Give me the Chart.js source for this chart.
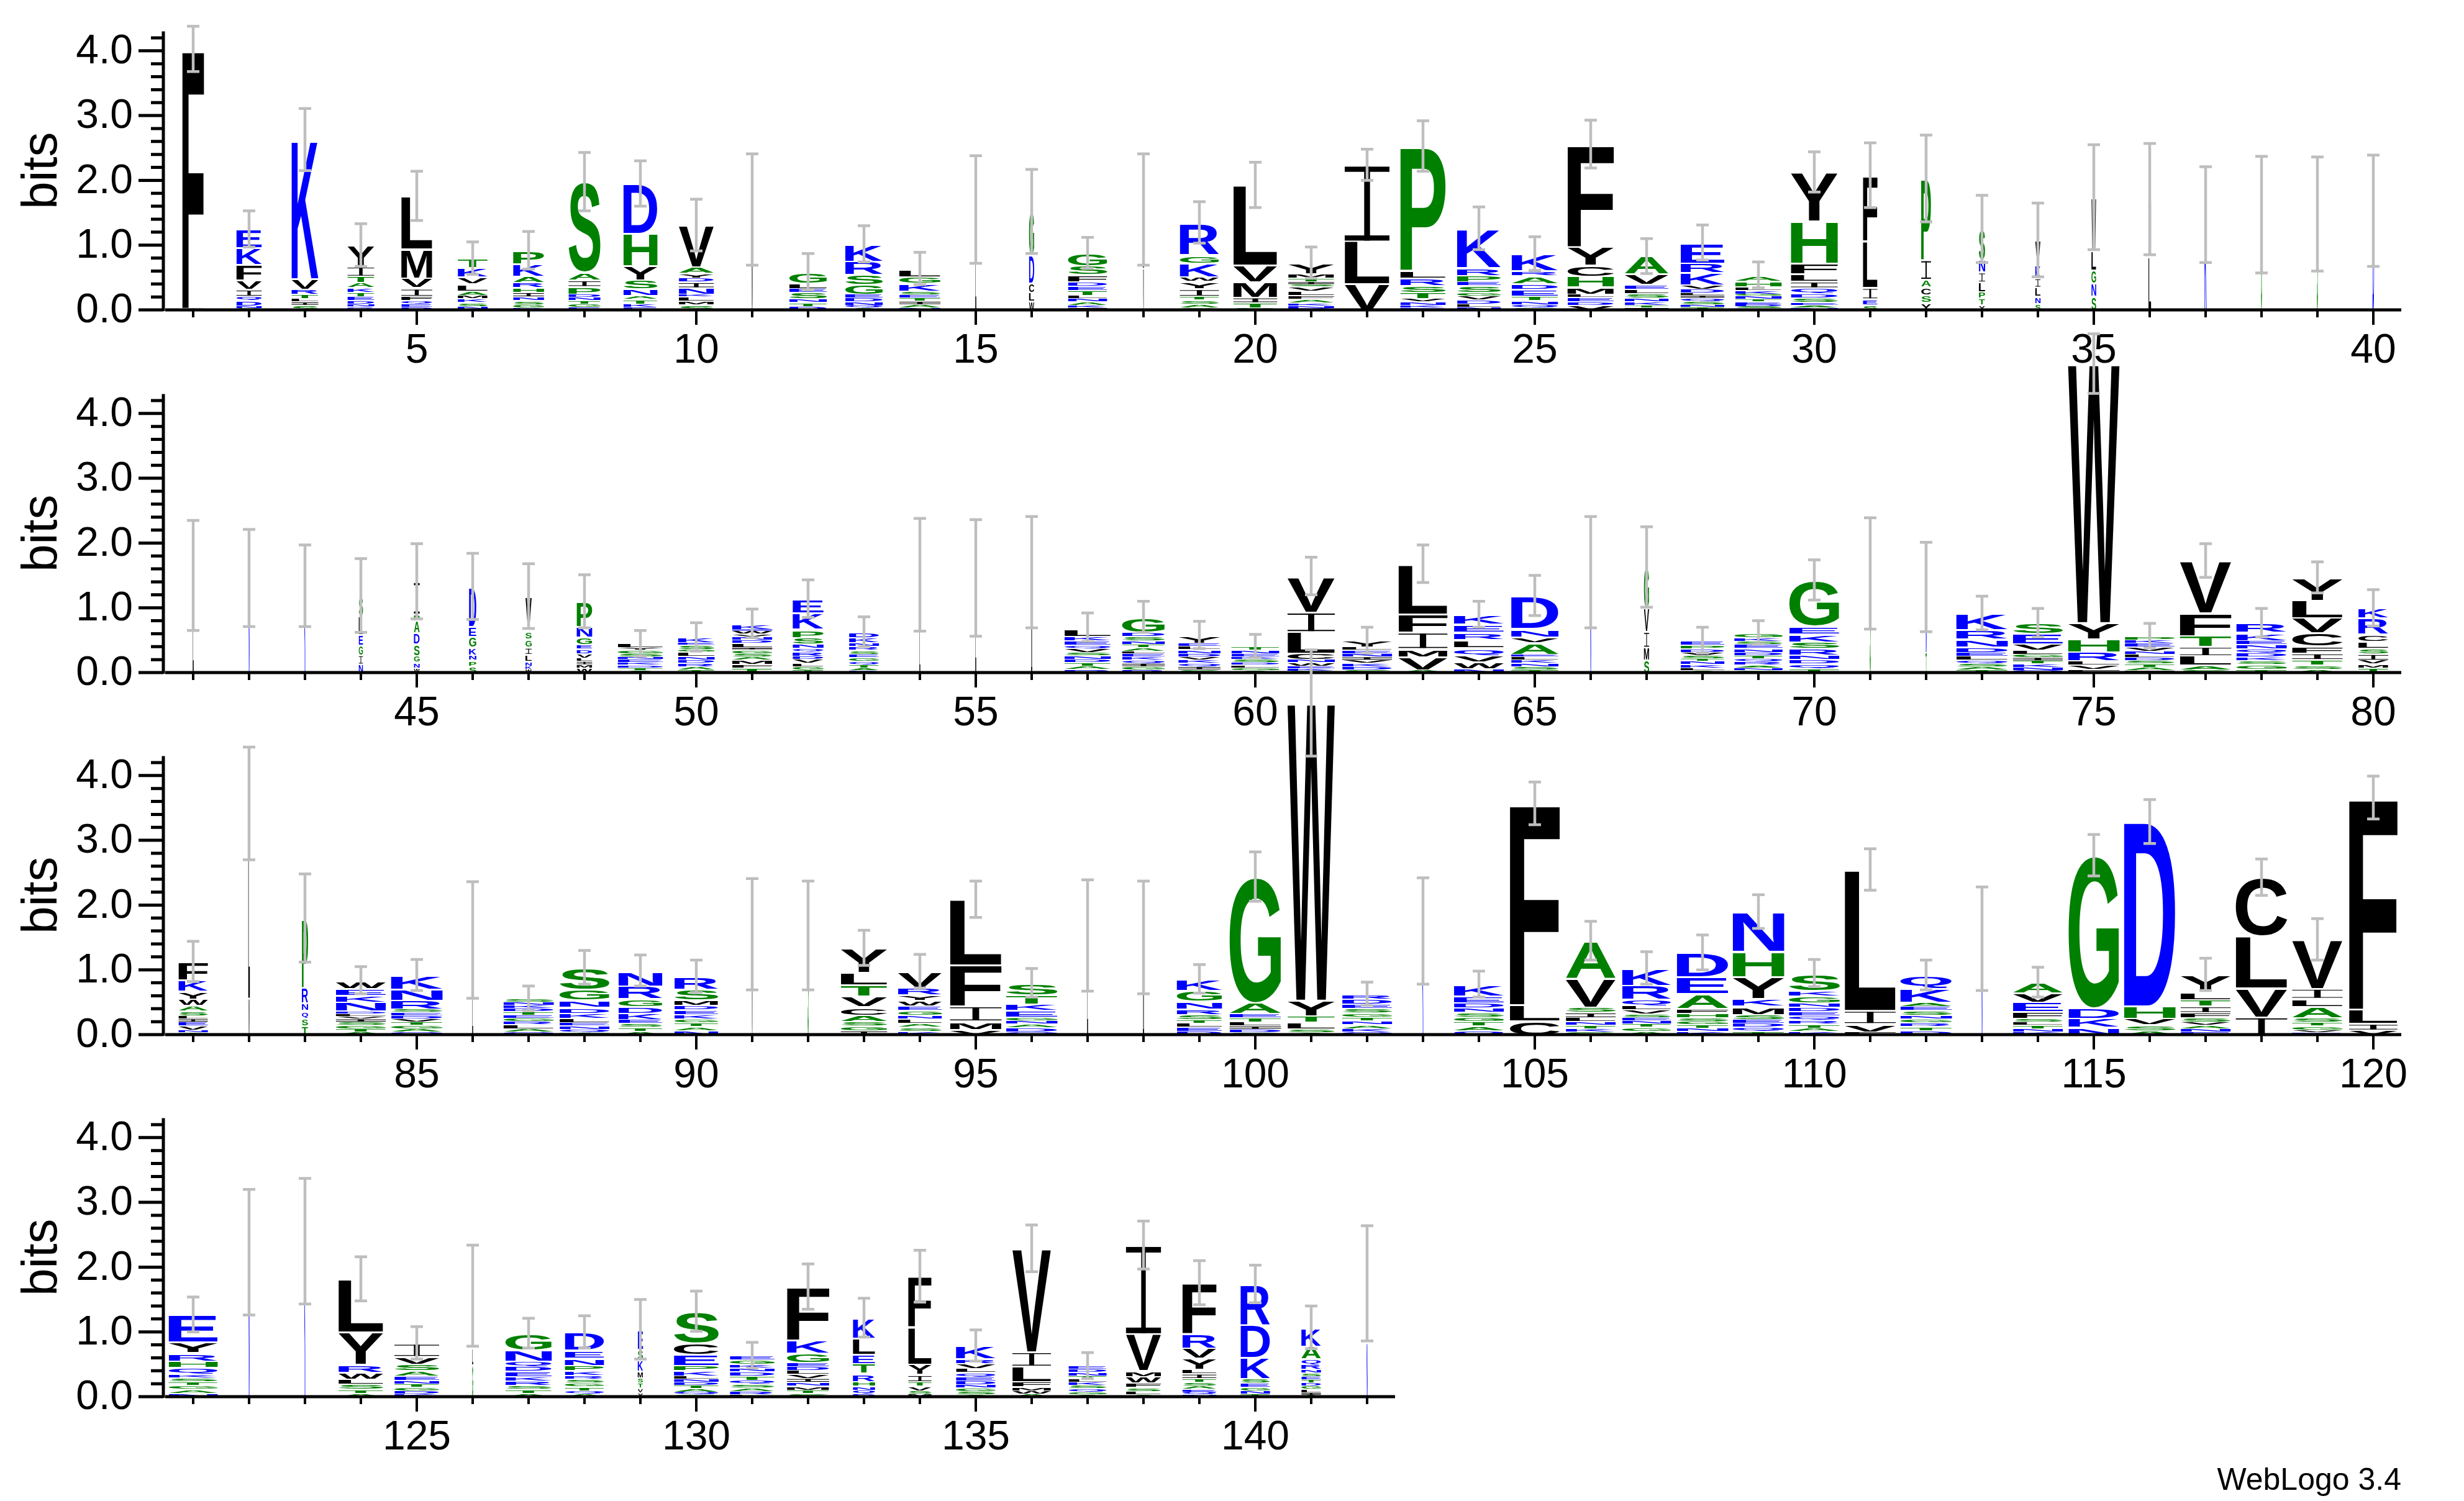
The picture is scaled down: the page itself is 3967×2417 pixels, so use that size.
<!DOCTYPE html>
<html>
<head>
<meta charset="utf-8">
<title>WebLogo</title>
<script src="https://cdn.jsdelivr.net/npm/chart.js@4.4.1/dist/chart.umd.min.js"></script>
<style>
    html, body { margin: 0; padding: 0; background: #fff; width: 3967px; height: 2417px; overflow: hidden; position: relative; }
    canvas { position: absolute; left: 0; }
</style>
</head>
<body>
<canvas id="row1"></canvas>
<canvas id="row2"></canvas>
<canvas id="row3"></canvas>
<canvas id="row4"></canvas>
<script>
// ---- Data: each stack lists letters top -> bottom as LETTER:bits ----
const stacks1 = [
    "F:4.0 I:.03", "E:.28 K:.26 F:.24 V:.14 I:.11 Q:.07 D:.08 N:.04 S:.03",
    "K:2.14 V:.16 R:.08 T:.07 L:.05 I:.05 S:.08", "Y:.32 I:.15 T:.1 A:.08 K:.07 T:.07 E:.06 D:.05 N:.04 Q:.03 R:.03",
    "L:.81 M:.45 V:.15 I:.13 F:.07 Q:.05 E:.05 D:.05", "T:.14 K:.14 V:.11 L:.11 A:.07 M:.05 K:.06 S:.06 N:.04 T:.02",
    "P:.2 K:.19 A:.1 R:.08 H:.07 I:.07 N:.06 S:.06 G:.05 D:.04", "S:1.39 A:.12 I:.1 P:.12 D:.05 N:.05 T:.05 G:.05 E:.05",
    "D:.76 H:.5 Y:.22 S:.14 N:.1 A:.06 T:.07 K:.05 E:.05", "V:.64 A:.1 Y:.07 D:.06 I:.09 N:.1 K:.04 L:.07 M:.05 S:.09",
    "L:.8 V:.75", "G:.17 L:.08 E:.06 S:.1 N:.06 T:.06 D:.06",
    "K:.26 R:.21 S:.15 G:.15 E:.06 D:.06 N:.05 Q:.04 A:.04", "L:.12 G:.1 K:.12 S:.06 E:.05 T:.05 I:.05 A:.05 N:.04",
    "G:.25 L:1.3", "G:.67 D:.43 C:.14 L:.14 W:.14",
    "G:.19 S:.14 F:.11 D:.07 E:.06 T:.08 L:.05 N:.05 A:.05 K:.04 I:.04", "L:.9 V:.65",
    "R:.49 G:.13 K:.21 W:.07 Y:.11 I:.12 T:.06 S:.06 A:.06 G:.04", "L:1.23 V:.26 M:.24 I:.08 T:.08 S:.04",
    "Y:.16 M:.07 T:.06 I:.04 S:.04 V:.06 L:.07 F:.06 A:.06 K:.04 N:.04 D:.03", "I:1.17 L:.66 V:.41",
    "P:1.91 L:.12 R:.12 S:.1 T:.1 V:.05 N:.05 K:.04 E:.04", "K:.6 R:.12 P:.1 E:.06 S:.1 G:.06 V:.06 D:.06 L:.05 N:.05",
    "K:.26 R:.07 A:.13 D:.08 E:.11 T:.07 N:.06 Q:.05 S:.04", "F:1.58 Y:.28 C:.17 H:.17 M:.11 L:.05 E:.07 D:.05 V:.08",
    "A:.27 V:.16 E:.07 L:.07 S:.07 N:.06 K:.05 T:.04 I:.04", "E:.31 R:.15 K:.19 V:.06 D:.06 L:.04 I:.04 Q:.05 S:.05 N:.04 T:.05",
    "A:.09 H:.09 L:.05 K:.06 G:.03 N:.05 T:.04 E:.04 D:.03 S:.03 Q:.03", "Y:.75 H:.65 F:.16 L:.12 I:.1 Q:.09 D:.07 S:.07 E:.04 A:.04 N:.04",
    "F:1.01 L:.72 I:.17 E:.09 S:.09", "P:1.25 I:.3 A:.12 C:.12 S:.12 Y:.12",
    "S:.47 N:.19 I:.15 L:.15 P:.1 T:.1 Y:.09", "V:.38 K:.2 I:.14 L:.14 N:.11 S:.11",
    "W:.82 L:.3 G:.2 N:.2 S:.22", "N:.88 L:.83", "K:1.47", "G:1.47", "S:1.48", "D:1.53",
];
const widths1 = [.42, .49, .52, .52, .6, .58, .6, .62, .66, .68, .03, .73, .73, .8, .02, .1, .76, .02, .76, .85,
    .89, .87, .88, .85, .9, .9, .85, .85, .9, .91, .28, .19, .12, .1, .09, .05, .04, .02, .02, .03];
const errors1 = [.35, .28, .48, .33, .38, .25, .29, .45, .35, .4, .86, .28, .28, .25, .83, .65, .24, .86, .32, .35,
    .24, .24, .39, .33, .26, .37, .27, .27, .2, .31, .5, .67, .52, .57, .81, .86, .74, .9, .88, .86];

const stacks2 = [
    "G:.3 L:1.2", "N:1.46", "K:1.34", "S:.31 L:.29 E:.16 G:.15 I:.14 N:.14",
    "I:.5 P:.1 A:.19 D:.17 S:.18 G:.1 N:.09 W:.08", "D:.61 E:.15 G:.17 K:.12 N:.08 P:.09 S:.11",
    "V:.52 S:.13 G:.13 I:.11 L:.11 N:.07 K:.05 W:.06", "P:.38 N:.16 G:.12 E:.07 D:.07 V:.07 L:.05 I:.05 M:.05 W:.08",
    "L:.06 Y:.04 G:.05 S:.05 N:.04 E:.05 K:.04 D:.04 T:.04 A:.04", "K:.08 E:.04 S:.07 G:.03 L:.07 N:.06 D:.05 R:.05 A:.05 T:.05",
    "K:.09 E:.02 W:.05 V:.04 N:.05 D:.05 L:.07 I:.03 G:.06 S:.05 A:.05 M:.07 F:.05 T:.08",
    "E:.21 K:.25 P:.13 S:.1 N:.07 Q:.05 R:.07 D:.05 V:.06 L:.05 G:.05 T:.05",
    "D:.08 K:.08 N:.06 R:.06 S:.06 E:.05 G:.06 Q:.05 T:.05 A:.04 D:.04", "V:.7 L:.81", "L:1.46", "I:1.55",
    "L:.13 K:.07 E:.07 Q:.05 V:.06 S:.05 N:.06 D:.05 T:.05 A:.05 R:.06",
    "G:.23 D:.06 S:.07 N:.06 T:.05 A:.05 L:.04 E:.05 K:.05 Q:.05 I:.05 G:.05 R:.05",
    "Y:.12 E:.05 L:.05 N:.06 D:.05 V:.05 K:.05 Q:.05 I:.05 S:.05", "T:.06 N:.05 E:.05 K:.04 S:.05 D:.04 L:.04 G:.04 A:.04",
    "V:.55 I:.3 L:.33 C:.1 N:.05 W:.05 E:.04 K:.04 S:.03", "Y:.1 L:.05 E:.05 N:.05 I:.05 V:.05 K:.05 D:.05 S:.05",
    "L:.77 F:.28 I:.25 M:.13 V:.2 A:.05", "K:.14 E:.13 R:.11 L:.13 Q:.12 V:.1 W:.1 N:.07",
    "D:.5 N:.13 V:.09 A:.18 E:.04 L:.05 K:.05 N:.05 S:.05 T:.05", "N:1.55", "G:.63 V:.36 I:.24 M:.2 S:.2",
    "E:.07 P:.06 D:.05 V:.05 S:.05 T:.04 N:.05 K:.05 L:.04 A:.04",
    "G:.07 K:.06 S:.05 E:.06 N:.06 D:.05 T:.05 Q:.05 R:.05 A:.04 N:.04 G:.04",
    "G:.7 E:.13 K:.12 S:.1 R:.1 N:.07 D:.07 Q:.07 T:.07", "S:1.53", "N:1.0 T:.32",
    "K:.25 R:.14 N:.13 D:.08 E:.06 L:.06 Q:.05 S:.05 A:.05 T:.05", "S:.16 E:.16 V:.1 L:.06 G:.05 I:.05 T:.05 K:.05 N:.05 Q:.04",
    "W:3.99 Y:.25 H:.2 R:.14 L:.07 V:.06 F:.06", "P:.06 K:.05 E:.06 V:.06 N:.05 L:.05 D:.05 S:.05 T:.05 A:.05 I:.04",
    "V:.8 F:.35 T:.17 I:.14 L:.15 A:.07 S:.05", "R:.14 K:.13 E:.06 N:.07 Q:.06 D:.06 K:.06 S:.06 G:.07 T:.06",
    "Y:.35 L:.27 V:.23 C:.2 F:.11 I:.1 T:.09 S:.06 A:.06", "K:.15 R:.25 C:.11 L:.11 S:.08 I:.1 V:.06 M:.06 T:.08",
];
const widths2 = [.02, .02, .02, .08, .11, .14, .12, .3, .88, .71, .78, .6, .58, .01, .01, .01, .9, .83, .82, .93,
    .92, .97, .95, .97, .92, .01, .1, .85, .94, .97, .01, .02, 1.0, .97, 1.0, .97, 1.0, .98, .98, .58];
const errors2 = [.85, .75, .63, .57, .58, .51, .5, .41, .2, .22, .22, .29, .23, .87, .9, .86, .22, .24, .21, .18,
    .29, .2, .29, .2, .31, .86, .62, .2, .18, .31, .86, .69, .26, .22, .46, .19, .26, .22, .24, .28];

const stacks3 = [
    "F:.28 K:.17 Y:.12 W:.1 A:.09 S:.07 L:.05 I:.05 E:.06 V:.06 N:.04 T:.04", "L:3.0 V:.57",
    "P:1.06 R:.24 N:.12 Q:.12 S:.12 T:.14", "W:.12 E:.11 K:.1 N:.14 D:.04 L:.04 V:.04 I:.05 S:.05 G:.05 T:.05 A:.05",
    "K:.21 N:.17 R:.14 S:.05 E:.05 D:.05 V:.05 T:.05 G:.05 A:.05 Q:.05", "V:.6 L:.86",
    "S:.05 N:.05 K:.05 D:.05 T:.05 E:.05 G:.05 R:.05 L:.06 A:.05 Q:.05",
    "S:.33 G:.17 N:.11 D:.09 K:.08 L:.07 E:.05 N:.05 Q:.05 T:.04", "N:.23 R:.2 G:.12 D:.1 K:.1 E:.06 S:.06 T:.06 A:.06",
    "R:.19 S:.17 M:.08 D:.07 E:.07 K:.07 G:.06 T:.06 A:.06 N:.07", "L:.8 V:.75", "S:1.53",
    "Y:.37 L:.19 T:.18 V:.16 C:.13 A:.1 S:.07 G:.07 I:.07", "V:.24 R:.12 Y:.08 W:.09 E:.07 G:.07 N:.06 L:.07 A:.06 S:.06 K:.06",
    "L:1.01 F:.63 I:.23 M:.13 V:.09", "S:.18 T:.14 K:.1 E:.1 G:.06 N:.05 A:.06 D:.06 Q:.05", "L:1.53", "I:1.5",
    "K:.17 G:.16 N:.13 R:.08 S:.08 T:.06 L:.06 E:.06 D:.06", "G:1.94 A:.17 E:.06 T:.07 L:.06 I:.05 D:.05 S:.04",
    "W:4.58 Y:.24 T:.1 L:.1 S:.06 A:.04", "R:.07 D:.08 E:.07 S:.07 G:.06 T:.06 N:.06 A:.06 K:.05 Q:.05", "K:1.6",
    "K:.18 E:.1 D:.08 N:.07 S:.07 G:.07 T:.07 A:.07 Q:.07", "F:3.1 L:.25 C:.22",
    "A:.57 V:.45 S:.08 I:.08 L:.06 N:.06 T:.05 K:.05 G:.05", "K:.26 R:.22 Q:.1 L:.06 V:.06 S:.06 E:.05 N:.05 T:.05 G:.06 A:.06",
    "D:.37 E:.26 A:.23 F:.07 H:.07 S:.06 G:.05 T:.05 N:.05 K:.06", "N:.61 H:.39 Y:.33 K:.12 M:.13 S:.08 E:.06 D:.06 Q:.06 T:.06",
    "S:.26 K:.09 G:.1 N:.07 D:.07 E:.06 Q:.07 R:.06 T:.06 A:.05 K:.06", "L:2.17 I:.2 V:.13 F:.05",
    "Q:.2 K:.21 A:.07 E:.06 S:.07 N:.06 G:.06 R:.06 T:.06 D:.07", "N:1.48",
    "A:.16 V:.14 E:.15 F:.1 S:.06 L:.05 T:.05 N:.05 K:.05", "G:2.35 D:.16 K:.14 N:.12", "D:2.84 H:.19 V:.1 S:.09 A:.07",
    "Y:.26 L:.12 T:.1 I:.1 F:.08 S:.07 V:.05 A:.05 N:.05 E:.05", "C:.9 L:.8 V:.45 I:.28",
    "V:.75 I:.15 L:.13 A:.17 S:.07 T:.06 G:.06 V:.04 E:.04", "F:3.26 L:.22 I:.1 V:.08",
];
const widths3 = [.57, .03, .12, .97, 1.0, .01, .98, .97, .85, .85, .01, .01, .9, .85, 1.0, 1.0, .01, .01, .88, 1.0,
    .92, .97, .01, .97, .97, .97, .95, 1.0, 1.0, .99, .99, 1.0, .01, .97, .98, 1.0, .97, 1.0, .98, .94];
const errors3 = [.31, .87, .68, .21, .24, .9, .19, .26, .24, .25, .86, .84, .27, .26, .28, .22, .86, .87, .22, .38,
    .82, .18, .82, .2, .33, .3, .25, .27, .26, .21, .32, .23, .8, .23, .32, .34, .25, .28, .32, .33];

const stacks4 = [
    "E:.42 Y:.16 R:.13 H:.1 Q:.1 K:.06 S:.06 T:.06 G:.06 A:.06 N:.06", "N:2.23", "K:2.4",
    "L:.81 Y:.5 R:.13 W:.1 L:.08 S:.08 T:.06 A:.06", "I:.2 V:.12 S:.1 A:.08 E:.07 N:.06 T:.05 G:.05 D:.05 K:.05",
    "N:.8 L:.26 G:.5", "G:.25 N:.17 Q:.08 D:.08 E:.08 K:.07 R:.07 S:.06 T:.06 A:.06",
    "D:.27 E:.13 N:.11 P:.08 K:.07 R:.06 S:.06 G:.06 T:.06 Q:.05 A:.05", "E:.3 S:.17 K:.17 M:.1 S:.08 T:.08 V:.07 Y:.07",
    "S:.48 C:.18 E:.17 P:.08 K:.08 L:.05 N:.05 D:.05 T:.05 A:.05 Q:.04 G:.04",
    "E:.06 G:.07 K:.06 N:.06 D:.06 T:.07 Q:.06 S:.06 A:.05 R:.05 L:.04",
    "F:.82 K:.2 G:.14 E:.07 D:.06 L:.06 V:.06 I:.06 N:.06 M:.06 T:.05 S:.06",
    "K:.31 L:.25 E:.14 T:.15 R:.13 H:.07 N:.06 Q:.06 D:.05", "F:.78 L:.57 Y:.16 I:.11 T:.07 V:.07 S:.05 M:.05",
    "K:.2 R:.07 V:.08 L:.06 Q:.07 E:.06 D:.06 N:.05 G:.05 S:.05 A:.04", "V:1.59 I:.22 L:.24 F:.08 M:.06 W:.05 A:.05",
    "E:.05 D:.05 N:.05 T:.05 L:.05 K:.05 S:.05 Q:.05 G:.04 A:.04", "I:1.36 V:.57 M:.09 W:.1 F:.07 S:.06 L:.05 A:.04",
    "F:.78 R:.22 V:.16 Y:.17 L:.07 I:.07 T:.06 S:.06 A:.05 E:.04 Q:.04 N:.04",
    "R:.62 D:.51 K:.32 S:.07 E:.07 G:.05 N:.05 T:.05",
    "K:.28 A:.2 Q:.08 R:.08 N:.06 S:.05 E:.05 T:.05 D:.05 G:.05 L:.05 I:.04 A:.03", "G:.9 N:.85",
];
const widths4 = [.95, .02, .02, .87, .87, .02, .9, .76, .1, .87, .87, .82, .43, .45, .77, .75, .74, .68, .66, .57, .38, .02];
const errors4 = [.27, .97, .97, .34, .25, .78, .23, .25, .46, .31, .2, .35, .3, .4, .24, .36, .2, .37, .34, .29, .33, .89];

const yTicks = [0, 1, 2, 3, 4];
const yTickLabels = ["0.0", "1.0", "2.0", "3.0", "4.0"];

(function () {
    "use strict";

    // ---- Palette ----
    const COLORS = { green: "#008000", blue: "#0000ff", black: "#000000", err: "#bebebe" };
    const GREEN = "GSTAPH";
    const BLUE = "KREDNQ";
    const letterColor = (ch) => (GREEN.includes(ch) ? COLORS.green : BLUE.includes(ch) ? COLORS.blue : COLORS.black);

    const FONT = '"Liberation Sans", Arial, Helvetica, sans-serif';
    const GLYPH_FONT = 'bold 200px ' + FONT;
    const Y_MAX = 4.3;
    const BIT_PX = 104.3;
    const ABOVE = 660;      // canvas px above the zero line
    const BELOW = 180;      // canvas px below the zero line

    function parseStack(s) {
        return s.trim().split(/\s+/).map((tok) => {
            const [ch, v] = tok.split(":");
            return { ch, bits: Number(v) };
        });
    }

    // glyph ink metrics, cached
    const measureCtx = document.createElement("canvas").getContext("2d");
    measureCtx.font = GLYPH_FONT;
    const metrics = {};
    function glyph(ch) {
        if (!metrics[ch]) {
            const m = measureCtx.measureText(ch);
            metrics[ch] = {
                left: m.actualBoundingBoxLeft,
                asc: m.actualBoundingBoxAscent,
                w: m.actualBoundingBoxLeft + m.actualBoundingBoxRight,
                h: m.actualBoundingBoxAscent + m.actualBoundingBoxDescent,
            };
        }
        return metrics[ch];
    }

    function drawLetter(ctx, ch, x0, y0, w, h) {
        ctx.fillStyle = letterColor(ch);
        if (h < 2) {
            ctx.fillRect(x0, y0, w, Math.max(h, 1));
            return;
        }
        if (ch === "I") {
            // WebLogo's serifed I: thin stem, full-width bars
            const bar = Math.max(1, Math.min(h * 0.07, 9));
            const stem = Math.max(1, w * 0.13);
            ctx.fillRect(x0, y0, w, bar);
            ctx.fillRect(x0, y0 + h - bar, w, bar);
            ctx.fillRect(x0 + (w - stem) / 2, y0, stem, h);
            return;
        }
        const g = glyph(ch);
        ctx.save();
        ctx.translate(x0, y0);
        ctx.scale(w / g.w, h / g.h);
        ctx.font = GLYPH_FONT;
        ctx.textAlign = "left";
        ctx.textBaseline = "alphabetic";
        ctx.fillText(ch, g.left, g.asc);
        ctx.restore();
    }

    // ---- Plugin: axes, letter stacks, error bars ----
    const logoPlugin = {
        id: "logo",
        afterDraw(chart) {
            const cfg = chart.config.options.plugins.logo;
            const ctx = chart.ctx;
            const xs = chart.scales.x;
            const ys = chart.scales.y;
            const area = chart.chartArea;
            const y0 = ys.getPixelForValue(0);

            ctx.save();
            // stacks
            cfg.stacks.forEach((s, i) => {
                const pos = cfg.first + i;
                const cx = xs.getPixelForValue(pos);
                const full = xs.getPixelForValue(pos + 0.46) - xs.getPixelForValue(pos - 0.46);
                const w = Math.max(full * cfg.widths[i], 1.5);
                const letters = parseStack(s).reverse(); // bottom -> top
                let cum = 0;
                letters.forEach((L) => {
                    const yb = ys.getPixelForValue(cum);
                    const yt = ys.getPixelForValue(cum + L.bits);
                    const h = yb - yt;
                    const gap = h > 14 ? 3 : h * 0.3;
                    drawLetter(ctx, L.ch, cx - w / 2, yt + gap, w, h - gap);
                    cum += L.bits;
                });
            });

            // error bars
            ctx.strokeStyle = COLORS.err;
            ctx.lineWidth = 4.5;
            cfg.stacks.forEach((s, i) => {
                const pos = cfg.first + i;
                const total = parseStack(s).reduce((a, b) => a + b.bits, 0);
                const e = cfg.errors[i];
                const cx = xs.getPixelForValue(pos);
                const yt = ys.getPixelForValue(total + e);
                const yb = ys.getPixelForValue(Math.max(total - e, 0));
                ctx.beginPath();
                ctx.moveTo(cx, yt); ctx.lineTo(cx, yb);
                ctx.moveTo(cx - 10, yt); ctx.lineTo(cx + 10, yt);
                ctx.moveTo(cx - 10, yb); ctx.lineTo(cx + 10, yb);
                ctx.stroke();
            });

            // axes
            ctx.strokeStyle = "#000";
            ctx.fillStyle = "#000";
            ctx.lineWidth = 5;
            ctx.beginPath();
            ctx.moveTo(area.left - 3, ys.getPixelForValue(Y_MAX));
            ctx.lineTo(area.left - 3, y0 + 2);
            ctx.moveTo(area.left, y0);
            ctx.lineTo(area.right, y0);
            ctx.stroke();

            // y ticks: major at integers, minor every 0.2
            ctx.beginPath();
            for (let k = 0; k <= 21; k++) {
                const v = k * 0.2;
                const y = ys.getPixelForValue(v);
                const major = k % 5 === 0;
                ctx.moveTo(area.left - (major ? 43 : 23), y);
                ctx.lineTo(area.left - 3, y);
            }
            ctx.stroke();
            ctx.font = "66px " + FONT;
            ctx.textAlign = "right";
            ctx.textBaseline = "middle";
            yTicks.forEach((v, k) => {
                ctx.fillText(yTickLabels[k], area.left - 52, ys.getPixelForValue(v) + 2);
            });

            // x ticks
            ctx.lineWidth = 4;
            ctx.beginPath();
            for (let p = cfg.first; p <= cfg.last; p++) {
                const x = xs.getPixelForValue(p);
                ctx.moveTo(x, y0);
                ctx.lineTo(x, y0 + (p % 5 === 0 ? 24 : 12));
            }
            ctx.stroke();
            ctx.textAlign = "center";
            for (let p = cfg.first; p <= cfg.last; p++) {
                if (p % 5 === 0) ctx.fillText(String(p), xs.getPixelForValue(p), y0 + 67);
            }

            // "bits" title
            ctx.save();
            ctx.translate(69, ys.getPixelForValue(2.15));
            ctx.rotate(-Math.PI / 2);
            ctx.font = "80px " + FONT;
            ctx.textAlign = "center";
            ctx.textBaseline = "middle";
            ctx.fillText("bits", 0, 0);
            ctx.restore();

            if (cfg.footer) {
                ctx.font = "50px " + FONT;
                ctx.textAlign = "right";
                ctx.textBaseline = "middle";
                ctx.fillText(cfg.footer, 3866, y0 + 136);
            }
            ctx.restore();
        },
    };

    const ROWS = [
        { id: "row1", first: 1, last: 40, zero: 499.4, stacks: stacks1, widths: widths1, errors: errors1 },
        { id: "row2", first: 41, last: 80, zero: 1082.9, stacks: stacks2, widths: widths2, errors: errors2 },
        { id: "row3", first: 81, last: 120, zero: 1666.4, stacks: stacks3, widths: widths3, errors: errors3 },
        { id: "row4", first: 121, last: 142, zero: 2249.3, stacks: stacks4, widths: widths4, errors: errors4, footer: "WebLogo 3.4" },
    ];

    function initRow(row) {
        const el = document.getElementById(row.id);
        el.width = 3967;
        el.height = ABOVE + BELOW;
        el.style.top = (row.zero - ABOVE) + "px";
        const n = row.last - row.first + 1;
        const left = 266;
        const right = 3967 - left - n * 90;

        new Chart(el, {
            type: "scatter",
            data: {
                datasets: [{
                    data: row.stacks.map((s, i) => ({
                        x: row.first + i,
                        y: parseStack(s).reduce((a, b) => a + b.bits, 0),
                    })),
                    pointRadius: 0,
                    showLine: false,
                }],
            },
            options: {
                responsive: false,
                animation: false,
                devicePixelRatio: 1,
                layout: { padding: { left, right, top: ABOVE - Y_MAX * BIT_PX, bottom: BELOW } },
                plugins: {
                    legend: { display: false },
                    tooltip: { enabled: false },
                    logo: row,
                },
                scales: {
                    x: { type: "linear", display: false, min: row.first - 0.5, max: row.last + 0.5 },
                    y: { type: "linear", display: false, min: 0, max: Y_MAX },
                },
            },
            plugins: [logoPlugin],
        });
    }

    ROWS.forEach(initRow);
})();
</script>
</body>
</html>
